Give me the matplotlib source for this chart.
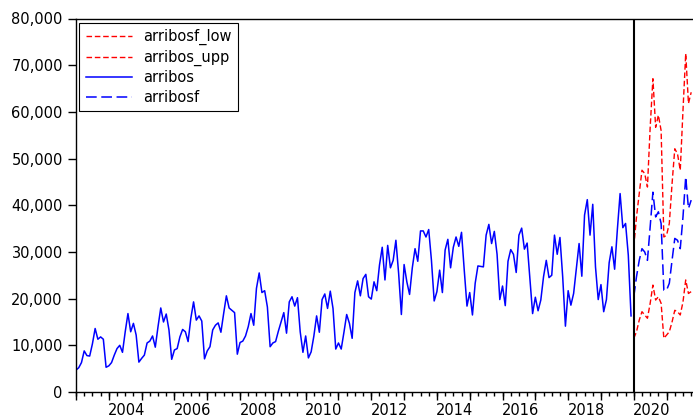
import numpy as np
import matplotlib
matplotlib.use("Agg")
import matplotlib.pyplot as plt
from matplotlib.ticker import FuncFormatter, MultipleLocator

# ---- data ----
start_year = 2003  # monthly data starting January 2003
arribos = [
    4700, 5200, 6300, 8800, 7800, 7700, 10300, 13600, 11300, 11800, 11300, 5300,
    5600, 6300, 7900, 9300, 10000, 8500, 12900, 16800, 12900, 14700, 12200, 6400,
    7200, 7900, 10500, 10900, 12000, 9600, 14000, 18000, 15000, 16700, 13300, 7000,
    9000, 9300, 11800, 13400, 12900, 10800, 15800, 19300, 15400, 16300, 15200, 7100,
    8800, 9700, 13300, 14300, 14800, 12800, 16800, 20600, 18000, 17500, 17000, 8100,
    10600, 10900, 12000, 14000, 16800, 14300, 22200, 25500, 21300, 21700, 18200, 9700,
    10500, 10800, 13000, 15000, 17000, 12600, 19300, 20400, 18400, 20200, 12900, 8500,
    12000, 7300, 8600, 12000, 16300, 12800, 19800, 21000, 17900, 21600, 17900, 9200,
    10500, 9200, 12800, 16600, 14700, 11500, 21300, 23800, 20600, 24300, 25200, 20400,
    19900, 23600, 21700, 27200, 31000, 24000, 31400, 26600, 28200, 32500, 25400, 16600,
    27300, 23600, 20900, 26600, 30700, 28000, 34500, 34500, 33200, 34800, 28200, 19500,
    21500, 26100, 21300, 30400, 32700, 26600, 31000, 33200, 31200, 34200, 26100, 18400,
    21300, 16500, 23300, 27000, 26900, 26800, 33600, 35900, 31800, 34400, 29500, 19800,
    22700, 18500, 28000, 30500, 29500, 25600, 33600, 35100, 30600, 31900, 24300, 16800,
    20300, 17400, 19700, 24700, 28200, 24500, 25000, 33600, 29500, 33100, 24700, 14100,
    21700, 18600, 21100, 26500, 31800, 24800, 37900, 41200, 33600, 40200, 26800, 19800,
    23000, 17200, 19800, 27700, 31100, 26300, 34800, 42500, 35200, 36100, 29300, 16300,
]
forecast_start = 2020  # January 2020
arribosf = [
    20400, 24700, 28200, 30700, 30000, 28200, 35400, 42800, 37500, 38600, 36100, 21800,
    21800, 23300, 28200, 32900, 32500, 30700, 37500, 46100, 39300, 41100,
]
arribos_upp = [
    31100, 37500, 42500, 47500, 46800, 43900, 56700, 67100, 56700, 59300, 56000, 33200,
    33600, 36100, 44600, 52100, 51000, 47500, 60300, 72500, 61800, 64200,
]
arribosf_low = [
    11500, 12900, 15400, 17200, 16500, 15800, 19000, 22900, 19700, 20400, 19000, 11500,
    12200, 12900, 15000, 17500, 17200, 16500, 19300, 24000, 21100, 21500,
]
year_labels = [2004, 2006, 2008, 2010, 2012, 2014, 2016, 2018, 2020]

# ---- figure ----
plt.rcParams['font.family'] = ['DejaVu Sans']
W, H = 693, 418
fig = plt.figure(figsize=(W / 100, H / 100), dpi=100)
left, right, top, bottom = 76, 700, 18.5, 392
ax = fig.add_axes([left / W, 1 - bottom / H, (right - left) / W, (bottom - top) / H])

x_act = start_year + np.arange(len(arribos)) / 12.0
x_fc = forecast_start + np.arange(len(arribosf)) / 12.0

ax.plot(x_fc, arribosf_low, color='#FF0000', lw=1.0, dashes=(4, 2), label='arribosf_low')
ax.plot(x_fc, arribos_upp, color='#FF0000', lw=1.0, dashes=(4, 2), label='arribos_upp')
ax.plot(x_act, arribos, color='#0000FF', lw=1.1, label='arribos')
ax.plot(x_fc, arribosf, color='#0000FF', lw=1.1, dashes=(7, 3), label='arribosf')
ax.axvline(forecast_start, color='black', lw=1.5)

px_per_year = 32.81
ax.set_xlim(start_year, start_year + (right - left) / px_per_year)
ax.set_ylim(0, 80000)

# y axis
ax.yaxis.set_major_locator(MultipleLocator(10000))
ax.yaxis.set_major_formatter(FuncFormatter(lambda v, p: f"{int(v):,}"))
ax.tick_params(axis='y', direction='out', length=5.5, width=1, pad=4, labelsize=10.5)

# x axis: labels centred in the year, ticks at years (secondary) and quarters (minor)
ax.set_xticks([y + 0.55 for y in year_labels])
ax.set_xticklabels([str(y) for y in year_labels])
ax.tick_params(axis='x', which='major', length=0, pad=8, labelsize=10.5)
ax.xaxis.set_minor_locator(MultipleLocator(0.25))
ax.tick_params(axis='x', which='minor', direction='out', length=3.2, width=1)
sec = ax.secondary_xaxis('bottom')
sec.set_xticks(np.arange(start_year, 2023))
sec.set_xticklabels([])
sec.tick_params(axis='x', length=6, width=1, direction='out')
sec.spines['bottom'].set_visible(False)

for s in ['left', 'bottom', 'top']:
    ax.spines[s].set_color('black')
    ax.spines[s].set_linewidth(1.0)
ax.spines['right'].set_visible(False)

leg = ax.legend(loc='upper left', bbox_to_anchor=(79 / W, 1 - 22.7 / H),
                bbox_transform=fig.transFigure, borderaxespad=0,
                fontsize=10.5, handlelength=3.2, handletextpad=0.75,
                labelspacing=0.3, borderpad=0.45, fancybox=False, framealpha=1)
leg.get_frame().set_edgecolor('black')
leg.get_frame().set_linewidth(0.8)

fig.savefig('out.png', dpi=100)
